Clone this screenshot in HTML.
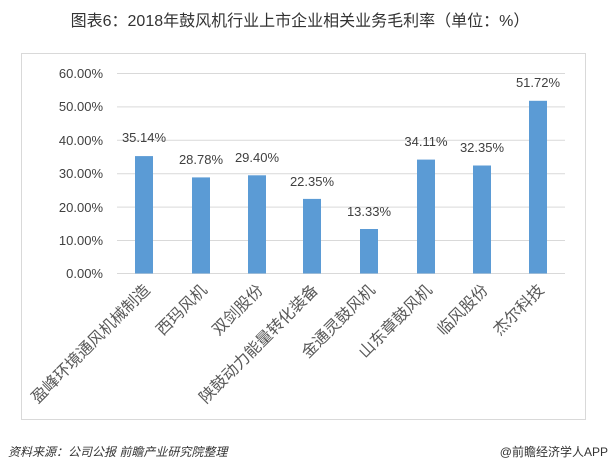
<!DOCTYPE html>
<html><head><meta charset="utf-8"><style>
body{margin:0;background:#fff;}
svg{display:block;font-family:"Liberation Sans","Noto Sans CJK SC",sans-serif;}
</style></head><body>
<svg width="610" height="471" viewBox="0 0 610 471">
<text x="300" y="26" font-size="16" fill="#333" text-anchor="middle">图表6：2018年鼓风机行业上市企业相关业务毛利率（单位：%）</text>
<rect x="21.5" y="53.5" width="564" height="366" fill="none" stroke="#d9d9d9"/>
<g stroke="#d9d9d9" stroke-width="1">
<line x1="117" x2="565" y1="73.5" y2="73.5"/>
<line x1="117" x2="565" y1="106.9" y2="106.9"/>
<line x1="117" x2="565" y1="140.3" y2="140.3"/>
<line x1="117" x2="565" y1="173.7" y2="173.7"/>
<line x1="117" x2="565" y1="207.1" y2="207.1"/>
<line x1="117" x2="565" y1="240.5" y2="240.5"/>
<line x1="117" x2="565" y1="273.5" y2="273.5"/>
</g>
<g font-size="13" fill="#404040" text-anchor="end">
<text x="103" y="78">60.00%</text>
<text x="103" y="111">50.00%</text>
<text x="103" y="145">40.00%</text>
<text x="103" y="178">30.00%</text>
<text x="103" y="212">20.00%</text>
<text x="103" y="245">10.00%</text>
<text x="103" y="278">0.00%</text>
</g>
<g fill="#5b9bd5">
<rect x="135" y="156.1" width="18" height="117.4"/>
<rect x="192" y="177.4" width="18" height="96.1"/>
<rect x="248" y="175.3" width="18" height="98.2"/>
<rect x="303" y="198.9" width="18" height="74.6"/>
<rect x="360" y="229" width="18" height="44.5"/>
<rect x="417" y="159.6" width="18" height="113.9"/>
<rect x="473" y="165.5" width="18" height="108"/>
<rect x="529" y="100.8" width="18" height="172.7"/>
</g>
<g font-size="13" fill="#404040" text-anchor="middle">
<text x="144" y="142">35.14%</text>
<text x="201" y="164">28.78%</text>
<text x="257" y="162">29.40%</text>
<text x="312" y="186">22.35%</text>
<text x="369" y="216">13.33%</text>
<text x="426" y="146">34.11%</text>
<text x="482" y="152">32.35%</text>
<text x="538" y="87">51.72%</text>
</g>
<g font-size="16" fill="#595959" text-anchor="end">
<text transform="translate(151,291) rotate(-45)">盈峰环境通风机械制造</text>
<text transform="translate(208,291) rotate(-45)">西玛风机</text>
<text transform="translate(264,291) rotate(-45)">双剑股份</text>
<text transform="translate(319,291) rotate(-45)">陕鼓动力能量转化装备</text>
<text transform="translate(376,291) rotate(-45)">金通灵鼓风机</text>
<text transform="translate(433,291) rotate(-45)">山东章鼓风机</text>
<text transform="translate(489,291) rotate(-45)">临风股份</text>
<text transform="translate(545,291) rotate(-45)">杰尔科技</text>
</g>
<text x="8" y="456" font-size="12" font-style="italic" fill="#333">资料来源：公司公报 前瞻产业研究院整理</text>
<text x="608" y="456" font-size="12" fill="#333" text-anchor="end">@前瞻经济学人APP</text>
</svg>
</body></html>
